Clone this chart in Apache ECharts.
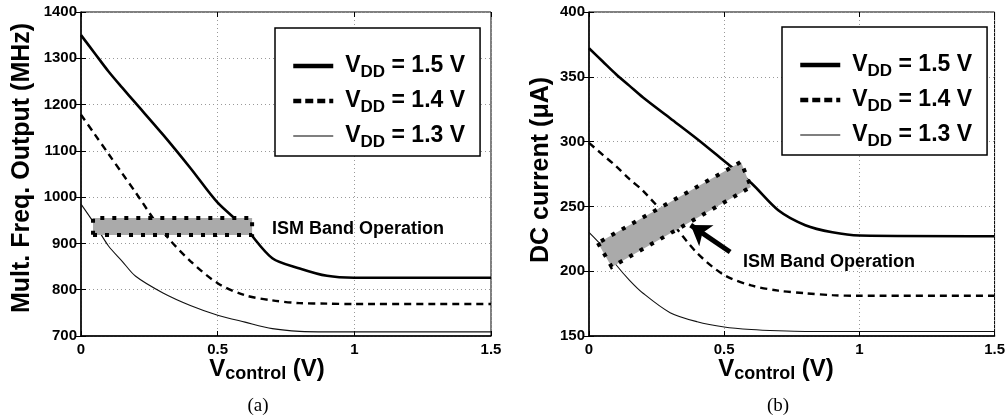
<!DOCTYPE html>
<html><head><meta charset="utf-8">
<script src="https://cdn.jsdelivr.net/npm/echarts@6/dist/echarts.min.js"></script>
<style>html,body{margin:0;padding:0;background:#fff}#c{width:1008px;height:420px}</style>
</head><body><div id="c"></div><script>
// ---- data ----
const vControl = [0, 0.05, 0.1, 0.15, 0.2, 0.3, 0.4, 0.5, 0.6, 0.7, 0.8, 0.9, 1.0, 1.5];
const freqVdd15 = [1350, 1311, 1272, 1237, 1203, 1135, 1063, 988, 934, 868, 846, 830, 826, 826];
const freqVdd14 = [1178, 1136, 1094, 1052, 1010, 925, 862, 814, 788, 777, 771, 770, 769, 769];
const freqVdd13 = [985, 942, 895, 862, 829, 793, 766, 745, 730, 716, 710, 709, 709, 709];
const curVdd15 = [372, 362, 352, 343, 334, 318, 302, 285, 268, 247, 235.5, 230, 227.5, 227];
const curVdd14 = [299, 290, 281, 271, 262, 239, 214, 197, 189, 185, 183, 181.5, 181, 181];
const curVdd13 = [230, 219, 205, 193, 183, 168, 161, 157, 155, 154, 153.5, 153.5, 153.5, 153.5];
const seriesNames = ['1.5 V', '1.4 V', '1.3 V'];
const xTicks = {min: 0, max: 1.5, interval: 0.5};
const yTicksA = {min: 700, max: 1400, interval: 100};
const yTicksB = {min: 150, max: 400, interval: 50};
// ISM band regions (corner points, data coords)
const bandA = [[0.044, 918], [0.626, 918], [0.626, 955], [0.044, 955]];
const bandB = [[0.033, 221.8], [0.084, 203.3], [0.599, 265], [0.562, 284.3]];
const arrowB = [[0.522, 214.8], [0.376, 235.6]];
const annotation = 'ISM Band Operation';

const FONT = '"Liberation Sans", Arial, Helvetica, sans-serif';
const chart = echarts.init(document.getElementById('c'), null, {renderer: 'canvas'});

const styles = [
  {color: '#000', width: 2.6, type: 'solid'},
  {color: '#000', width: 2.4, type: [7, 5]},
  {color: '#111', width: 1.1, type: 'solid'}
];
const legendLine = [
  {width: 4.5, type: 'solid', color: '#000'},
  {width: 4.5, type: [8, 4], color: '#000'},
  {width: 1.2, type: 'solid', color: '#000'}
];
const plainNum = v => String(v);

function mainX(gi) {
  return {type: 'value', gridIndex: gi, ...xTicks,
    axisLine: {show: true, onZero: false, lineStyle: {color: '#000', width: 1.5}},
    axisTick: {show: true, inside: true, length: 5, lineStyle: {color: '#000'}},
    axisLabel: {color: '#000', fontFamily: FONT, fontWeight: 'bold', fontSize: 15, margin: 6, formatter: plainNum},
    splitLine: {show: true, lineStyle: {color: '#999', type: [1, 3], width: 1}}};
}
function mainY(gi, t) {
  return {type: 'value', gridIndex: gi, ...t,
    axisLine: {show: true, onZero: false, lineStyle: {color: '#000', width: 1.5}},
    axisTick: {show: true, inside: true, length: 5, lineStyle: {color: '#000'}},
    axisLabel: {color: '#000', fontFamily: FONT, fontWeight: 'bold', fontSize: 15, margin: 4, formatter: plainNum},
    splitLine: {show: true, lineStyle: {color: '#999', type: [1, 3], width: 1}}};
}
function secX(gi) {
  return {type: 'value', gridIndex: gi, position: 'top', ...xTicks,
    axisLine: {show: false}, axisLabel: {show: false}, splitLine: {show: false},
    axisTick: {show: true, inside: true, length: 5, lineStyle: {color: '#000'}}};
}
function secY(gi, t) {
  return {type: 'value', gridIndex: gi, position: 'right', ...t,
    axisLine: {show: false}, axisLabel: {show: false}, splitLine: {show: false},
    axisTick: {show: true, inside: true, length: 5, lineStyle: {color: '#000'}}};
}

function lineSeries(name, idx, vals, k) {
  return {type: 'line', name: name, xAxisIndex: idx, yAxisIndex: idx,
    data: vControl.map((x, i) => [x, vals[i]]),
    symbol: 'none', smooth: 0.3,
    lineStyle: styles[k], itemStyle: {color: '#000'}, z: 3, silent: true};
}
function bandSeries(idx, corners) {
  return {type: 'custom', xAxisIndex: idx, yAxisIndex: idx, z: 4, silent: true,
    data: [corners[0]],
    renderItem: function (params, api) {
      return {type: 'polygon', shape: {points: corners.map(p => api.coord(p))},
        style: {fill: '#aaaaaa', stroke: '#000', lineWidth: 4, lineDash: [4, 8]}};
    }};
}

const richLegend = {
  g: {width: 7},
  v: {fontSize: 23, fontWeight: 'bold', fontFamily: FONT, color: '#000', lineHeight: 30},
  s: {fontSize: 17, fontWeight: 'bold', fontFamily: FONT, color: '#000', lineHeight: 12, verticalAlign: 'bottom'}
};
function legendCfg(left, top) {
  return {orient: 'vertical', left: left, top: top, selectedMode: false,
    itemWidth: 40, itemHeight: 30, itemGap: 8, padding: [26, 15, 5, 16],
    borderColor: '#000', borderWidth: 1.5, backgroundColor: '#fff',
    itemStyle: {opacity: 0},
    data: seriesNames.map((n, k) => ({name: n, lineStyle: legendLine[k], itemStyle: {opacity: 0}})),
    formatter: n => '{g|}{v|V}{s|DD}{v| = ' + n + '}',
    textStyle: {rich: richLegend}};
}

const xTitleRich = {
  m: {fontSize: 24, fontWeight: 'bold', fontFamily: FONT, fill: '#000', lineHeight: 28},
  s: {fontSize: 18, fontWeight: 'bold', fontFamily: FONT, fill: '#000', lineHeight: 12, verticalAlign: 'bottom'}
};
function xTitle(cx) {
  return {type: 'text', x: cx, y: 369, style: {text: '{m|V}{s|control}{m| (V)}', rich: xTitleRich,
    align: 'center', verticalAlign: 'middle', textAlign: 'center', textVerticalAlign: 'middle'}};
}
function yTitle(cx, cy, t) {
  return {type: 'text', x: cx, y: cy, rotation: Math.PI / 2,
    style: {text: t, fill: '#000', font: 'bold 25px ' + FONT, textAlign: 'center', textVerticalAlign: 'middle',
      align: 'center', verticalAlign: 'middle'}};
}
function plainText(x, y, t, font, align) {
  return {type: 'text', x: x, y: y, z: 10,
    style: {text: t, fill: '#000', font: font, textAlign: align, textVerticalAlign: 'middle', align: align, verticalAlign: 'middle'}};
}

const option = {
  backgroundColor: '#fff',
  animation: false,
  grid: [
    {left: 81, top: 12, width: 410, height: 324, show: true, borderColor: '#000', borderWidth: 1},
    {left: 589, top: 12, width: 411, height: 324, show: true, borderColor: '#000', borderWidth: 1}
  ],
  xAxis: [mainX(0), mainX(1), secX(0), secX(1)],
  yAxis: [mainY(0, yTicksA), mainY(1, yTicksB), secY(0, yTicksA), secY(1, yTicksB)],
  legend: [legendCfg(275, 28), legendCfg(782, 27)],
  series: [
    bandSeries(0, bandA),
    bandSeries(1, bandB),
    lineSeries(seriesNames[0], 0, freqVdd15, 0),
    lineSeries(seriesNames[1], 0, freqVdd14, 1),
    lineSeries(seriesNames[2], 0, freqVdd13, 2),
    lineSeries(seriesNames[0], 1, curVdd15, 0),
    lineSeries(seriesNames[1], 1, curVdd14, 1),
    lineSeries(seriesNames[2], 1, curVdd13, 2),
    {type: 'lines', coordinateSystem: 'cartesian2d', xAxisIndex: 1, yAxisIndex: 1, z: 6, silent: true,
      symbol: ['none', 'arrow'], symbolSize: 19,
      lineStyle: {color: '#000', width: 5, opacity: 1, curveness: 0},
      data: [{coords: arrowB}]}
  ],
  graphic: [
    yTitle(22, 168, 'Mult. Freq. Output (MHz)'),
    yTitle(541, 170, 'DC current (\u03bcA)'),
    xTitle(267),
    xTitle(776),
    plainText(258, 406, '(a)', '19px "Liberation Serif", "Times New Roman", serif', 'center'),
    plainText(778, 406, '(b)', '19px "Liberation Serif", "Times New Roman", serif', 'center'),
    plainText(272, 229, annotation, 'bold 18px ' + FONT, 'left'),
    plainText(743, 262, annotation, 'bold 18px ' + FONT, 'left')
  ]
};
chart.setOption(option);
</script></body></html>
